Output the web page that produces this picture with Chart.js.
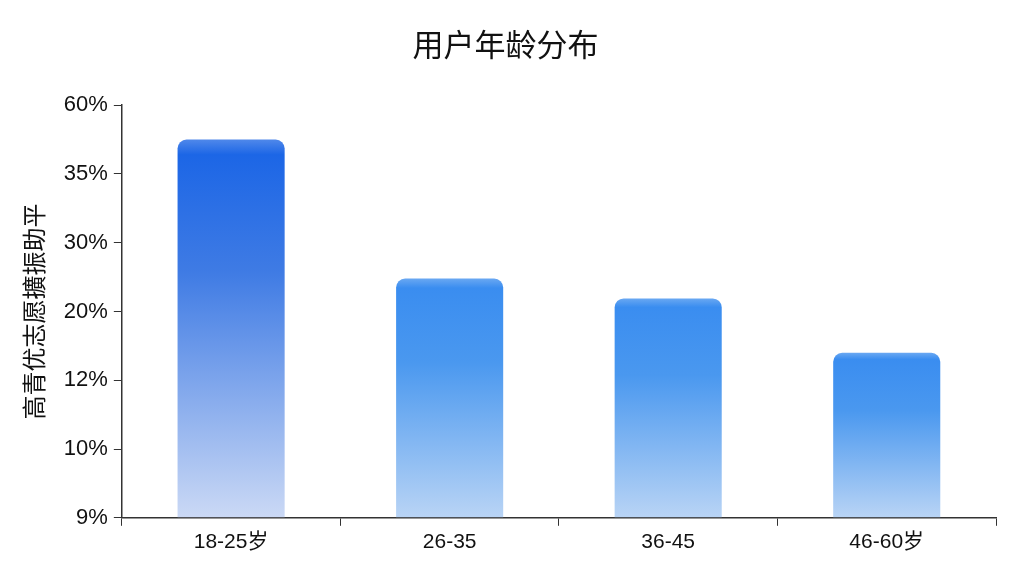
<!DOCTYPE html>
<html>
<head>
<meta charset="utf-8">
<script src="https://cdn.jsdelivr.net/npm/chart.js@4.4.0/dist/chart.umd.min.js"></script>
<style>
  html, body { margin: 0; padding: 0; background: #fff; }
  #wrap { width: 1024px; height: 576px; }
</style>
</head>
<body>
<div id="wrap"><canvas id="barChart"></canvas></div>
<script>
const ageLabels = ['18-25岁', '26-35', '36-45', '46-60岁'];
// bar heights in axis steps (the axis labels are not evenly valued)
const barValues = [5.5, 3.48, 3.19, 2.4];
const yTickLabels = ['9%', '10%', '12%', '20%', '30%', '35%', '60%'];

const topColors = ['#1c66e6', '#3a8df0', '#3a8df0', '#3a8df0'];
const bottomColors = ['#cbd9f5', '#b9d4f5', '#b9d4f5', '#b9d4f5'];
const FONT = "'Liberation Sans', 'Noto Sans CJK SC', sans-serif";
const CJK = "'Noto Sans CJK SC', sans-serif";

const ctx = document.getElementById('barChart');

function barGradient(c) {
  const chart = c.chart;
  const area = chart.chartArea;
  if (!area) return topColors[c.dataIndex];
  const y = chart.scales.y;
  const top = y.getPixelForValue(barValues[c.dataIndex]);
  const g = chart.ctx.createLinearGradient(0, top, 0, area.bottom);
  g.addColorStop(0, c.dataIndex === 0 ? '#4f88ea' : '#6aa8f2');
  g.addColorStop(0.04, topColors[c.dataIndex]);
  g.addColorStop(0.35, c.dataIndex === 0 ? '#3f7be4' : '#4a98ef');
  g.addColorStop(1, bottomColors[c.dataIndex]);
  return g;
}

new Chart(ctx, {
  type: 'bar',
  data: {
    labels: ageLabels,
    datasets: [{
      data: barValues,
      backgroundColor: barGradient,
      borderRadius: { topLeft: 9, topRight: 9 },
      borderSkipped: 'bottom',
      categoryPercentage: 1,
      barPercentage: 0.49
    }]
  },
  options: {
    responsive: true,
    maintainAspectRatio: false,
    animation: false,
    devicePixelRatio: 1,
    layout: { padding: { left: 15, right: 28, top: 8, bottom: 17 } },
    plugins: {
      legend: { display: false },
      tooltip: { enabled: false },
      title: {
        display: true,
        text: '用户年龄分布',
        color: '#111',
        font: { family: CJK, size: 31, weight: 'normal' },
        padding: { top: 18, bottom: 42 }
      }
    },
    scales: {
      x: {
        grid: { display: true, drawOnChartArea: false, color: '#333', tickLength: 8, offset: true },
        border: { display: true, color: '#333', width: 1.5 },
        ticks: { color: '#111', font: { family: FONT, size: 21 }, padding: 4 }
      },
      y: {
        min: 0,
        max: 6,
        grid: { display: true, drawOnChartArea: false, color: '#333', tickLength: 8 },
        border: { display: true, color: '#333', width: 1.5 },
        ticks: {
          stepSize: 1,
          color: '#111',
          font: { family: FONT, size: 22 },
          padding: 6,
          callback: (v) => yTickLabels[v]
        },
        title: {
          display: true,
          text: '高青优志愿擴振助平',
          color: '#111',
          font: { family: CJK, size: 24 },
          padding: { bottom: 10 }
        }
      }
    }
  }
});
</script>
</body>
</html>
